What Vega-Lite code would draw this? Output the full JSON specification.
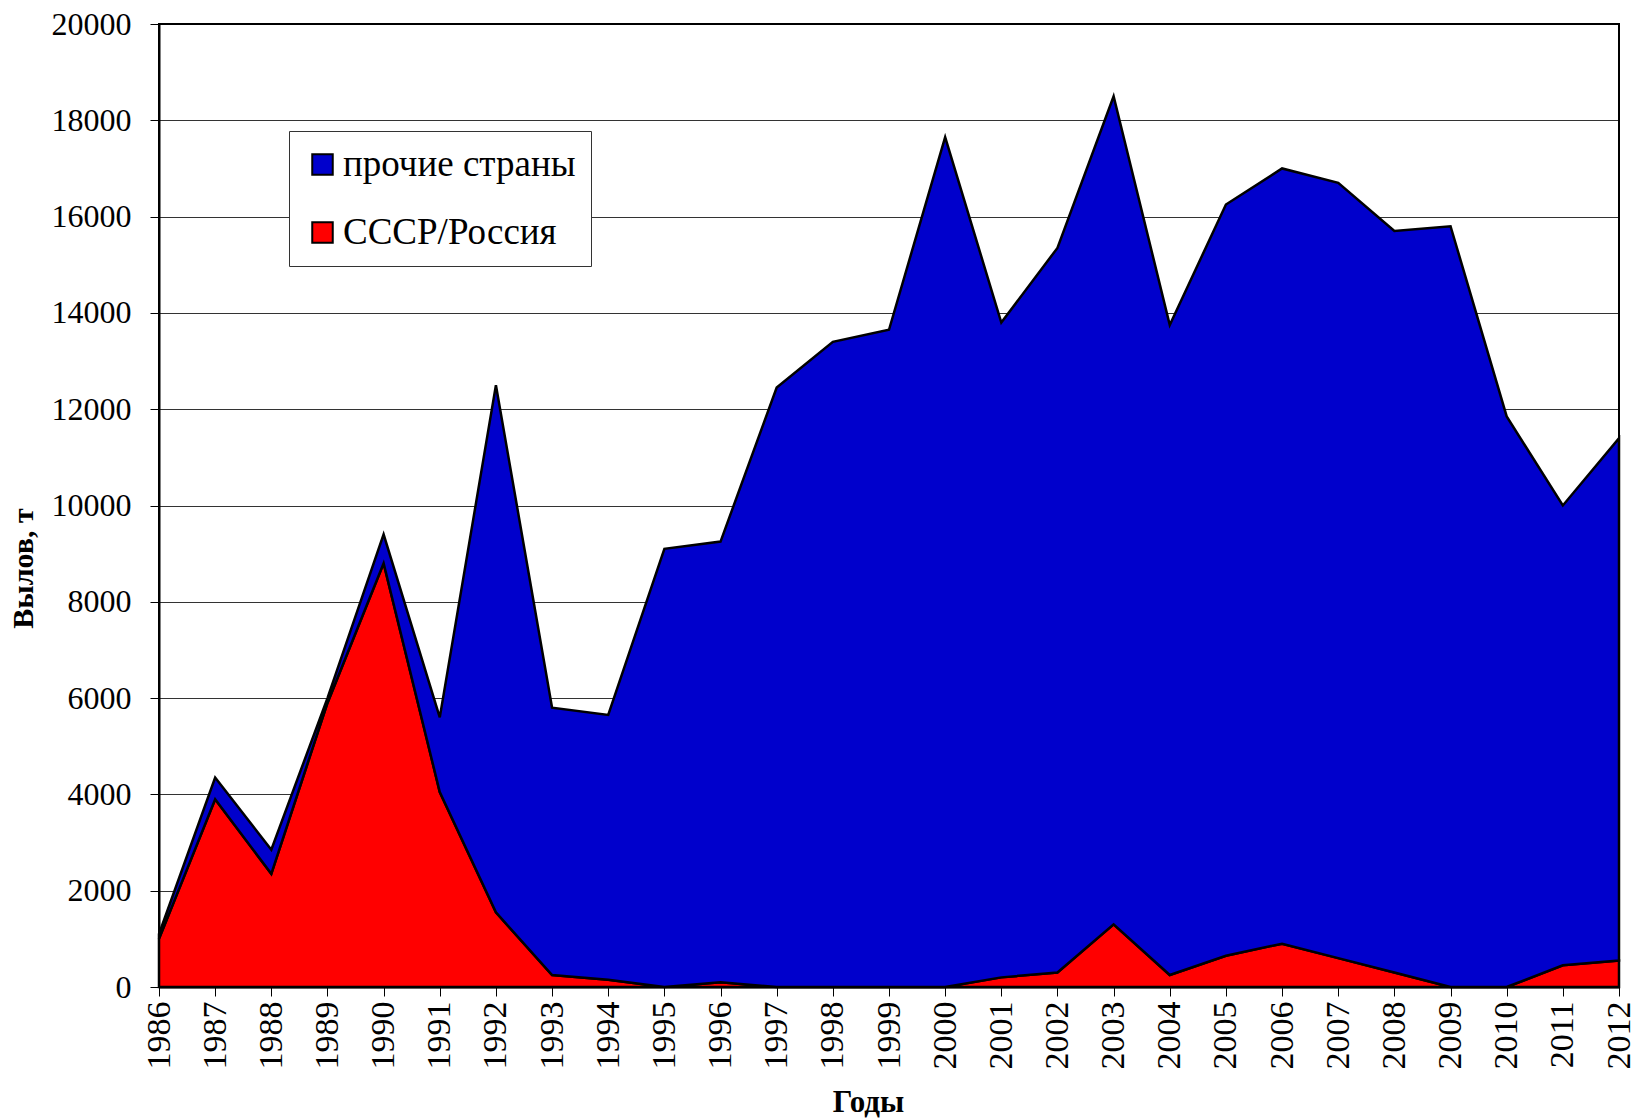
{
  "$schema": "https://vega.github.io/schema/vega-lite/v6.json",
  "autosize": {"type": "none"},
  "width": 1460,
  "height": 963,
  "padding": {"left": 159, "top": 24, "right": 16, "bottom": 131},
  "background": "white",
  "config": {
    "view": {"stroke": "black", "strokeWidth": 2},
    "font": "Liberation Serif",
    "axis": {"labelFont": "Liberation Serif", "titleFont": "Liberation Serif"},
    "legend": {"labelFont": "Liberation Serif"}
  },
  "data": {"values": [
    {"year": 1986, "series": "СССР/Россия", "ord": 1, "value": 1000},
    {"year": 1987, "series": "СССР/Россия", "ord": 1, "value": 3900},
    {"year": 1988, "series": "СССР/Россия", "ord": 1, "value": 2350},
    {"year": 1989, "series": "СССР/Россия", "ord": 1, "value": 5900},
    {"year": 1990, "series": "СССР/Россия", "ord": 1, "value": 8800},
    {"year": 1991, "series": "СССР/Россия", "ord": 1, "value": 4050},
    {"year": 1992, "series": "СССР/Россия", "ord": 1, "value": 1550},
    {"year": 1993, "series": "СССР/Россия", "ord": 1, "value": 250},
    {"year": 1994, "series": "СССР/Россия", "ord": 1, "value": 150},
    {"year": 1995, "series": "СССР/Россия", "ord": 1, "value": 0},
    {"year": 1996, "series": "СССР/Россия", "ord": 1, "value": 100},
    {"year": 1997, "series": "СССР/Россия", "ord": 1, "value": 0},
    {"year": 1998, "series": "СССР/Россия", "ord": 1, "value": 0},
    {"year": 1999, "series": "СССР/Россия", "ord": 1, "value": 0},
    {"year": 2000, "series": "СССР/Россия", "ord": 1, "value": 0},
    {"year": 2001, "series": "СССР/Россия", "ord": 1, "value": 200},
    {"year": 2002, "series": "СССР/Россия", "ord": 1, "value": 300},
    {"year": 2003, "series": "СССР/Россия", "ord": 1, "value": 1300},
    {"year": 2004, "series": "СССР/Россия", "ord": 1, "value": 250},
    {"year": 2005, "series": "СССР/Россия", "ord": 1, "value": 650},
    {"year": 2006, "series": "СССР/Россия", "ord": 1, "value": 900},
    {"year": 2007, "series": "СССР/Россия", "ord": 1, "value": 600},
    {"year": 2008, "series": "СССР/Россия", "ord": 1, "value": 300},
    {"year": 2009, "series": "СССР/Россия", "ord": 1, "value": 0},
    {"year": 2010, "series": "СССР/Россия", "ord": 1, "value": 0},
    {"year": 2011, "series": "СССР/Россия", "ord": 1, "value": 450},
    {"year": 2012, "series": "СССР/Россия", "ord": 1, "value": 550},
    {"year": 1986, "series": "прочие страны", "ord": 2, "value": 100},
    {"year": 1987, "series": "прочие страны", "ord": 2, "value": 450},
    {"year": 1988, "series": "прочие страны", "ord": 2, "value": 500},
    {"year": 1989, "series": "прочие страны", "ord": 2, "value": 100},
    {"year": 1990, "series": "прочие страны", "ord": 2, "value": 600},
    {"year": 1991, "series": "прочие страны", "ord": 2, "value": 1550},
    {"year": 1992, "series": "прочие страны", "ord": 2, "value": 10950},
    {"year": 1993, "series": "прочие страны", "ord": 2, "value": 5550},
    {"year": 1994, "series": "прочие страны", "ord": 2, "value": 5500},
    {"year": 1995, "series": "прочие страны", "ord": 2, "value": 9100},
    {"year": 1996, "series": "прочие страны", "ord": 2, "value": 9150},
    {"year": 1997, "series": "прочие страны", "ord": 2, "value": 12450},
    {"year": 1998, "series": "прочие страны", "ord": 2, "value": 13400},
    {"year": 1999, "series": "прочие страны", "ord": 2, "value": 13650},
    {"year": 2000, "series": "прочие страны", "ord": 2, "value": 17650},
    {"year": 2001, "series": "прочие страны", "ord": 2, "value": 13600},
    {"year": 2002, "series": "прочие страны", "ord": 2, "value": 15050},
    {"year": 2003, "series": "прочие страны", "ord": 2, "value": 17200},
    {"year": 2004, "series": "прочие страны", "ord": 2, "value": 13500},
    {"year": 2005, "series": "прочие страны", "ord": 2, "value": 15600},
    {"year": 2006, "series": "прочие страны", "ord": 2, "value": 16100},
    {"year": 2007, "series": "прочие страны", "ord": 2, "value": 16100},
    {"year": 2008, "series": "прочие страны", "ord": 2, "value": 15400},
    {"year": 2009, "series": "прочие страны", "ord": 2, "value": 15800},
    {"year": 2010, "series": "прочие страны", "ord": 2, "value": 11850},
    {"year": 2011, "series": "прочие страны", "ord": 2, "value": 9550},
    {"year": 2012, "series": "прочие страны", "ord": 2, "value": 10850}
  ]},
  "mark": {"type": "area", "stroke": "black", "strokeWidth": 2.5, "strokeJoin": "miter", "opacity": 1, "fillOpacity": 1},
  "encoding": {
    "x": {
      "field": "year", "type": "quantitative",
      "scale": {"domain": [1986, 2012], "nice": false, "zero": false},
      "axis": {
        "values": [1986,1987,1988,1989,1990,1991,1992,1993,1994,1995,1996,1997,1998,1999,2000,2001,2002,2003,2004,2005,2006,2007,2008,2009,2010,2011,2012],
        "format": "d",
        "labelAngle": -90,
        "labelAlign": "right",
        "labelBaseline": "middle",
        "labelFont": "Liberation Serif",
        "labelFontSize": 34,
        "labelColor": "black",
        "labelPadding": 5,
        "labelOverlap": false,
        "labelFlush": false,
        "tickColor": "black",
        "tickSize": 9,
        "tickWidth": 1,
        "domainColor": "black",
        "domainWidth": 2,
        "grid": false,
        "title": "Годы",
        "titleFont": "Liberation Serif",
        "titleFontSize": 31,
        "titleFontWeight": "bold",
        "titleColor": "black",
        "titleX": 709,
        "titleY": 100,
        "titleBaseline": "top"
      }
    },
    "y": {
      "field": "value", "type": "quantitative",
      "stack": "zero",
      "scale": {"domain": [0, 20000], "nice": false},
      "axis": {
        "values": [0,2000,4000,6000,8000,10000,12000,14000,16000,18000,20000],
        "format": "d",
        "labelFont": "Liberation Serif",
        "labelFontSize": 32,
        "labelColor": "black",
        "labelPadding": 19,
        "tickColor": "black",
        "tickSize": 9,
        "tickWidth": 1,
        "domainColor": "black",
        "domainWidth": 2,
        "grid": true,
        "gridColor": "black",
        "gridWidth": 1,
        "gridOpacity": 0.8,
        "title": "Вылов, т",
        "titleFont": "Liberation Serif",
        "titleFontSize": 30,
        "titleFontWeight": "bold",
        "titleColor": "black",
        "titleX": -136,
        "titleY": 544,
        "titleAngle": -90,
        "titleAlign": "center",
        "titleBaseline": "middle"
      }
    },
    "color": {
      "field": "series", "type": "nominal",
      "scale": {"domain": ["прочие страны", "СССР/Россия"], "range": ["#0000CC", "#FF0000"]},
      "legend": {
        "title": null,
        "orient": "none",
        "legendX": 130,
        "legendY": 107,
        "direction": "vertical",
        "fillColor": "white",
        "strokeColor": "#333",
        "padding": 15,
        "symbolType": "square",
        "symbolSize": 420,
        "symbolStrokeColor": "black",
        "symbolStrokeWidth": 2,
        "symbolOpacity": 1,
        "labelFont": "Liberation Serif",
        "labelFontSize": 37,
        "labelColor": "black",
        "labelOffset": 2,
        "rowPadding": 30,
        "labelLimit": 400
      }
    },
    "order": {"field": "ord", "type": "quantitative"}
  }
}
